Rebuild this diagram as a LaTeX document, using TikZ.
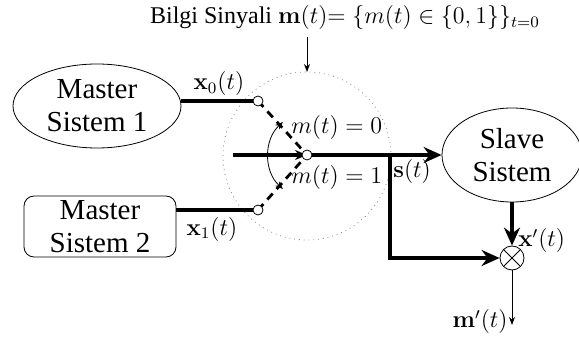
\documentclass[tikz,border=0pt]{standalone}
\usepackage{amsmath,amssymb}
\usepackage[no-math]{fontspec}
\setmainfont{Liberation Serif}
\usetikzlibrary{arrows.meta, positioning, calc, shapes}

\tikzset{
  sysnode/.style={draw, ellipse, inner sep=0pt, align=center, font=\fontsize{14.5}{16.5}\selectfont},
  boxnode/.style={draw, rectangle, rounded corners=5pt, inner sep=0pt, align=center, font=\fontsize{14.5}{16.5}\selectfont},
  contact/.style={draw, circle, fill=white, minimum size=5pt, inner sep=0pt, line width=0.4pt},
  sig/.style={line width=2pt},
  lbl/.style={font=\fontsize{12}{14}\selectfont, inner sep=1pt},
}

\begin{document}
\begin{tikzpicture}[x=0.5pt, y=-0.5pt]
  \useasboundingbox (0,0) rectangle (579,342);
  % switch region
  \draw[dotted, gray] (307,156) circle[radius=84];
  \node[sysnode, minimum width=84pt, minimum height=42pt] (m1) at (97,106) {Master\\Sistem 1};
  \node[boxnode, minimum width=76pt, minimum height=30.5pt] (m2) at (100,226.5) {Master\\Sistem 2};
  \node[sysnode, minimum width=70pt, minimum height=47pt] (sl) at (512,155) {Slave\\Sistem};
  \coordinate (p) at (307,155);
  \coordinate (in) at (233,155);
  \coordinate (br) at (390,155);
  \coordinate (c0) at (258,101);
  \coordinate (c1) at (258,210);
  \node[draw, circle, minimum size=12pt, inner sep=0pt, fill=white] (mul) at (512,258) {};
  \coordinate (out) at (512,325);
  % lines
  \draw[sig] (c0 -| m1.east) -- (c0);
  \draw[sig] (c1 -| m2.east) -- (c1);
  \draw[line width=1.4pt, dash pattern=on 4pt off 3pt] (c0) -- (p);
  \draw[line width=1.4pt, dash pattern=on 4pt off 3pt] (c1) -- (p);
  \draw[sig, -{Stealth[length=6pt,width=5pt]}] (in) -- (p);
  \draw[sig, -{Stealth[length=9pt,width=8pt]}] (p) -- (sl.west);
  \draw[sig, -{Stealth[length=9pt,width=8pt]}] (br) |- (mul.west);
  \draw[sig, -{Stealth[length=9pt,width=8pt]}] (sl.south) -- (mul.north);
  \draw[-{Stealth[length=4pt,width=3pt]}] (mul.south) -- (out);
  \draw[{Stealth[length=4pt,width=3pt]}-{Stealth[length=4pt,width=3pt]}] (283,122) to[bend right=48] (283,189);
  \draw (mul.north west) -- (mul.south east) (mul.north east) -- (mul.south west);
  \node[contact] at (c0) {};
  \node[contact] at (c1) {};
  \node[contact] at (p) {};
  % labels
  \node[lbl] (top) at (345,18) {Bilgi Sinyali $\mathbf{m}(t){=}\;\{m(t)\in\{0,1\}\}_{t=0}$};
  \draw[-{Stealth[length=4pt,width=3pt]}] (307,37) -- (307,72);
  \node[lbl] (lx0) at (219,84) {$\mathbf{x}_0(t)$};
  \node[lbl] (lx1) at (212,229) {$\mathbf{x}_1(t)$};
  \node[lbl, anchor=west] (lm0) at (289,128) {$m(t)=0$};
  \node[lbl, anchor=west] (lm1) at (289,178) {$m(t)=1$};
  \node[lbl, anchor=west] (ls) at (391,171) {$\mathbf{s}(t)$};
  \node[lbl, anchor=west] (lxp) at (516,241) {$\mathbf{x}'(t)$};
  \node[lbl, anchor=east] (lmp) at (510,322) {$\mathbf{m}'(t)$};
\end{tikzpicture}
\end{document}
